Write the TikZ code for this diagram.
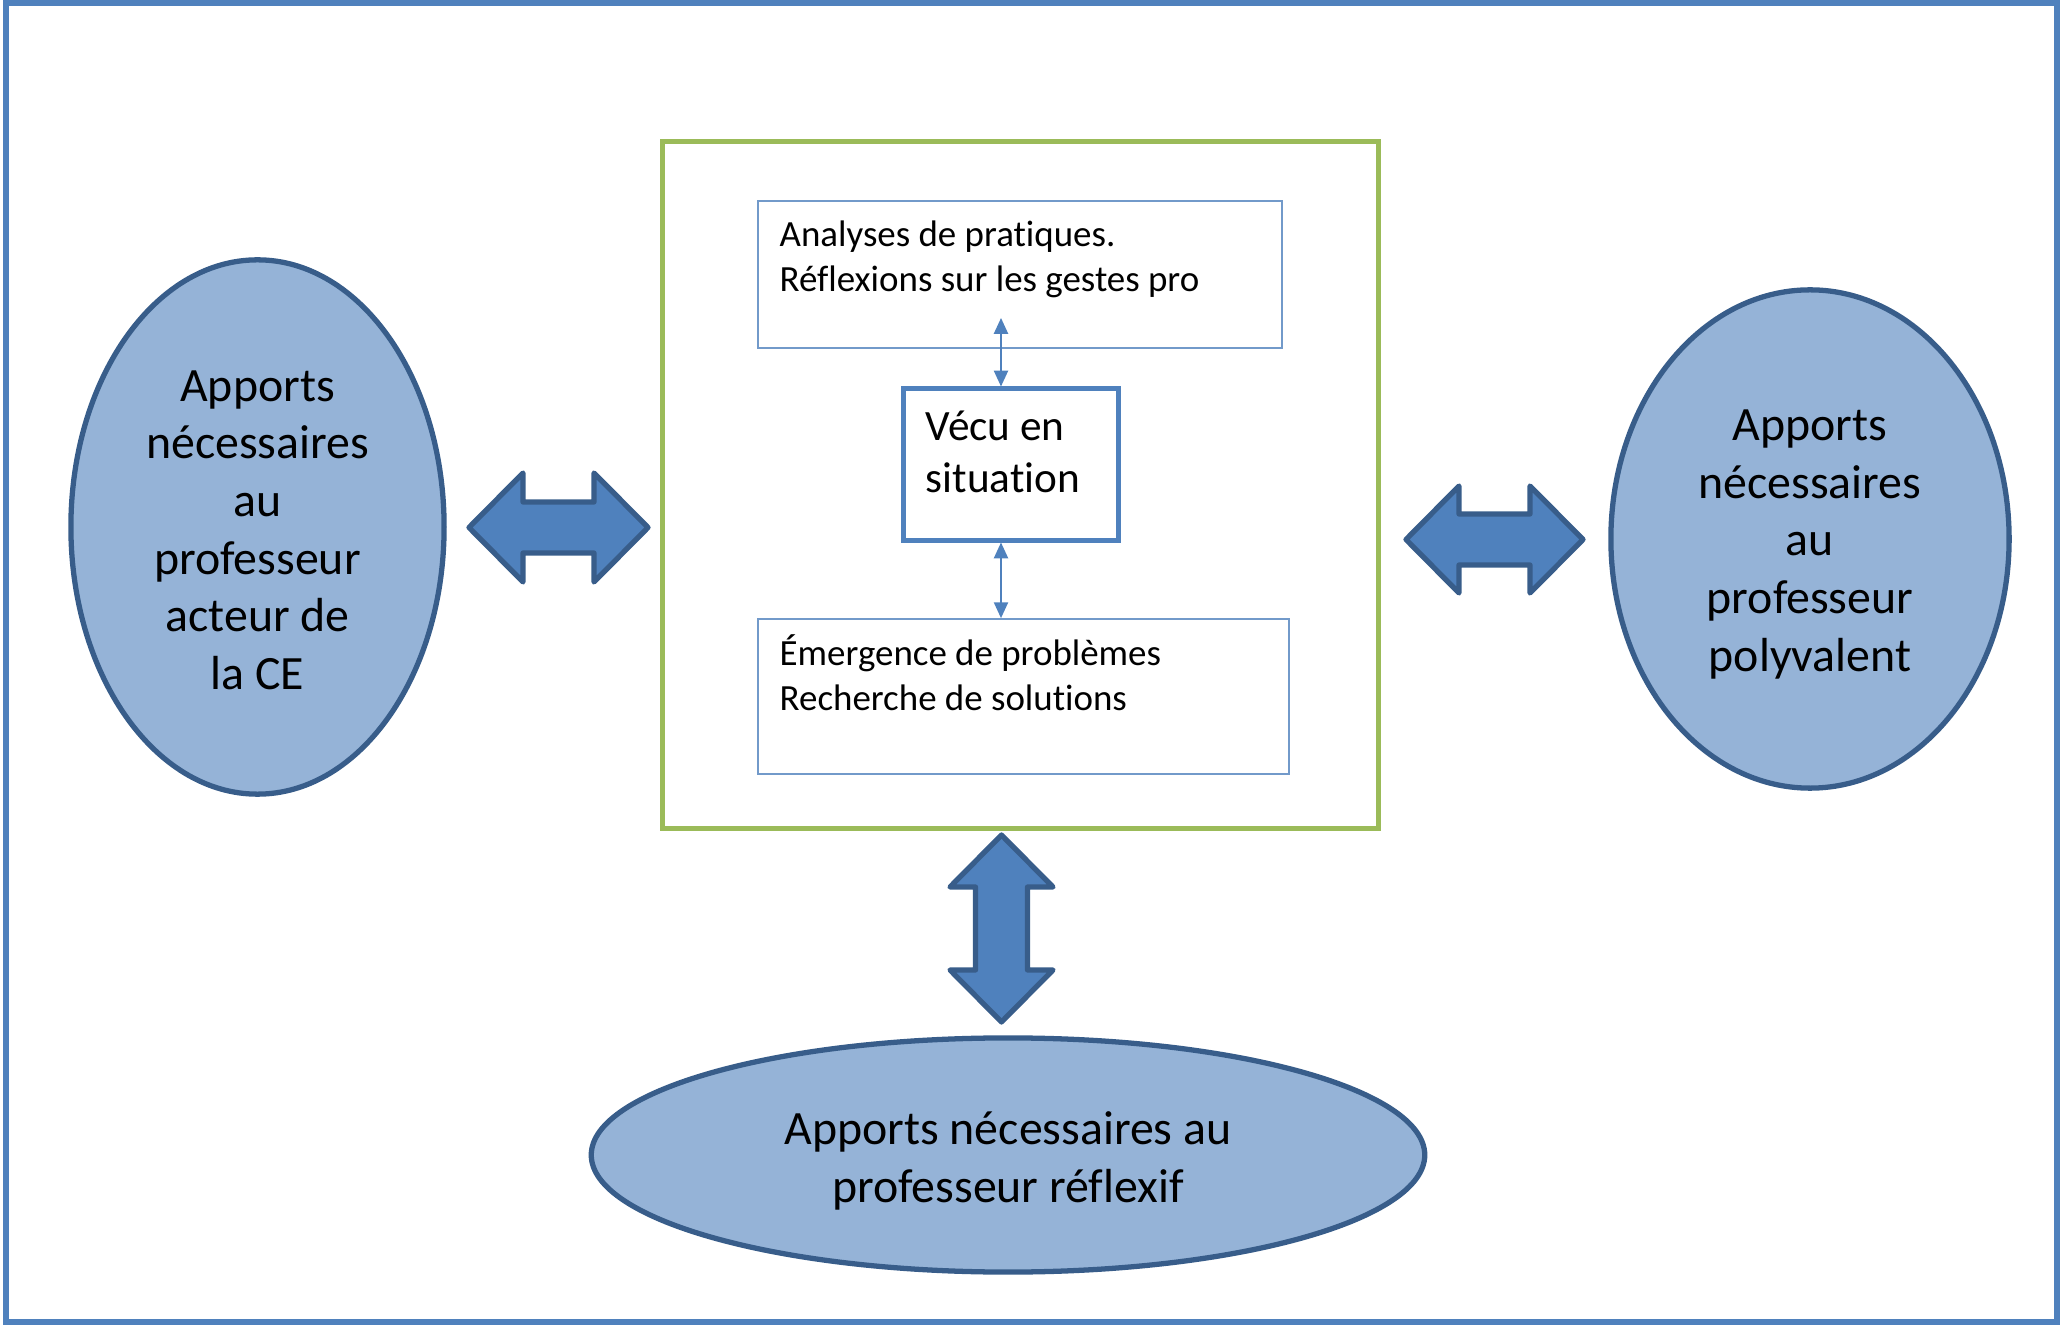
\documentclass[tikz,border=0pt]{standalone}
\usepackage{fontspec}
\setmainfont[Ligatures=NoCommon]{Carlito}
\usepackage{tikz}
\usetikzlibrary{shapes.geometric,arrows.meta,positioning}
\definecolor{frameblue}{HTML}{4F81BD}
\definecolor{darkblue}{HTML}{385D8A}
\definecolor{lightblue}{HTML}{95B3D7}
\definecolor{boxgreen}{HTML}{9BBB59}

\begin{document}
\begin{tikzpicture}
[x=0.01cm,y=-0.01cm,
 apport/.style = {draw=darkblue, fill=lightblue, ellipse, line width=1.5pt, inner sep=0pt},
 apporttxt/.style = {align=center, inner sep=0pt, font=\fontsize{13.6}{16.4}\selectfont},
 textbox/.style = {draw=frameblue!80, line width=0.45pt, inner sep=0pt},
 bigarrow/.style = {draw=darkblue, fill=frameblue, line width=1.5pt, line join=round},
 smallarrow/.style = {frameblue, line width=0.55pt, {Triangle[length=4.5pt,width=4pt]}-{Triangle[length=4.5pt,width=4pt]}},
 small/.style = {anchor=west, align=left, inner sep=0pt, font=\fontsize{10.5}{12.8}\selectfont},
]
\useasboundingbox (0,0) rectangle (2060,1325);
\draw[frameblue, line width=1.7pt] (6,3) rectangle (2057,1322);

% les trois apports
\node (gauche) at (257.5,527) [apport, minimum width=3.73cm, minimum height=5.34cm] {};
\node (droite) at (1810,539) [apport, minimum width=3.98cm, minimum height=4.98cm] {};
\node (bas) at (1008,1155) [apport, minimum width=8.33cm, minimum height=2.34cm] {};
\node (gauchetxt) at ([yshift=-0.9pt]gauche.center) [apporttxt]
  {Apports\\nécessaires\\au\\professeur\\acteur de\\la CE};
\node (droitetxt) at ([yshift=-1.5pt]droite.center) [apporttxt]
  {Apports\\nécessaires\\au\\professeur\\polyvalent};
\node (bastxt) at ([yshift=-1.7pt]bas.center) [apporttxt]
  {Apports nécessaires au\\professeur réflexif};

% le cadre central
\node (cadre) at (1020.5,485) [draw=boxgreen, line width=1.4pt, minimum width=7.15cm, minimum height=6.86cm] {};
\node (ana) at (1020,274.5) [textbox, minimum width=5.24cm, minimum height=1.47cm] {};
\node (vecu) at (1011,464.5) [draw=frameblue, line width=1.4pt, minimum width=2.14cm, minimum height=1.51cm] {};
\node (emerg) at (1023.5,696.5) [textbox, minimum width=5.31cm, minimum height=1.55cm] {};

\node (anatxt) at (779,259) [small] {Analyses de pratiques.\\Réflexions sur les gestes pro};
\node (vecutxt) at (925,452) [anchor=west, align=left, inner sep=0pt, font=\fontsize{12.3}{15}\selectfont] {Vécu en\\situation};
\node (emergtxt) at (779,673) [small] {Émergence de problèmes\\Recherche de solutions};

\coordinate (axe) at (1001,485);
\coordinate (haut) at (1001,318);
\draw[smallarrow] (haut) -- (vecu.north -| axe);
\draw[smallarrow] (vecu.south -| axe) -- (emerg.north -| axe);

% grosses fleches
\draw[bigarrow, shift={(558.5,527.5)}] (-89.5,0) -- (-35.5,-54.5) -- (-35.5,-25.5) -- (35.5,-25.5) -- (35.5,-54.5) -- (89.5,0) -- (35.5,54.5) -- (35.5,25.5) -- (-35.5,25.5) -- (-35.5,54.5) -- cycle;
\draw[bigarrow, shift={(1494.5,539.5)}] (-88.5,0) -- (-35.5,-53.5) -- (-35.5,-25.5) -- (35.5,-25.5) -- (35.5,-53.5) -- (88.5,0) -- (35.5,53.5) -- (35.5,25.5) -- (-35.5,25.5) -- (-35.5,53.5) -- cycle;
\draw[bigarrow, shift={(1001.5,928.5)}] (0,-93.5) -- (51.5,-41.5) -- (26,-41.5) -- (26,41.5) -- (51.5,41.5) -- (0,93.5) -- (-51.5,41.5) -- (-26,41.5) -- (-26,-41.5) -- (-51.5,-41.5) -- cycle;

\end{tikzpicture}
\end{document}
